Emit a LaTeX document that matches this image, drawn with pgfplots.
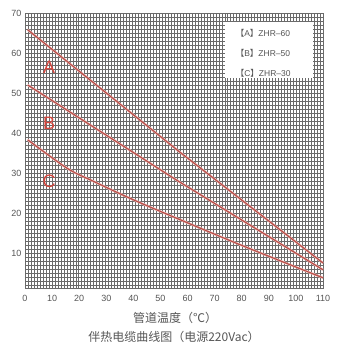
\documentclass[border=0pt]{standalone}
\usepackage{pgfplots}
\pgfplotsset{compat=1.18}
\usepackage{fontspec}
\setmainfont{Liberation Sans}
\newfontfamily\cjk{Noto Sans CJK SC}
\definecolor{gridc}{HTML}{6A6A6A}
\definecolor{curve}{HTML}{B84D48}
\definecolor{halo}{HTML}{EDB8B4}
\definecolor{lbl}{HTML}{D6473E}
\definecolor{txt}{HTML}{555555}
\begin{document}
\begin{tikzpicture}[x=1pt,y=1pt]
\useasboundingbox (0,0) rectangle (345,347);
\begin{axis}[
  at={(25pt,59pt)}, anchor=south west, scale only axis,
  width=298pt, height=275pt,
  xmin=0, xmax=110, ymin=1.25, ymax=70,
  axis line style={gridc, line width=0.4pt},
  xtick={0,10,...,110}, ytick={10,20,...,70},
  major tick length=0pt, minor tick length=0pt,
  minor xtick={0,1.1,...,110}, minor ytick={2,3,...,70},
  grid=minor, minor grid style={gridc, line width=0.3pt},
  tick label style={font=\fontsize{9}{10}\selectfont, text=txt},
  /pgf/number format/assume math mode=true,
  xticklabel style={yshift=-3.5pt},
  clip=false,
]
\fill[white] (axis cs:73.8,67.7) rectangle (axis cs:106.2,53.8);
\node[anchor=west, font=\fontsize{8.5}{10}\selectfont, text=txt] at (axis cs:76.5,65) {{\cjk 【}A{\cjk 】}ZHR–60};
\node[anchor=west, font=\fontsize{8.5}{10}\selectfont, text=txt] at (axis cs:76.5,60) {{\cjk 【}B{\cjk 】}ZHR–50};
\node[anchor=west, font=\fontsize{8.5}{10}\selectfont, text=txt] at (axis cs:76.5,55) {{\cjk 【}C{\cjk 】}ZHR–30};
\addplot[halo, line width=2.2pt] coordinates {(1,65.8) (57,35.3) (110,7.5)};
\addplot[curve, line width=1.1pt] coordinates {(1,65.8) (57,35.3) (110,7.5)};
\addplot[halo, line width=2.2pt] coordinates {(1,52.0) (56,28.2) (110,5.8)};
\addplot[curve, line width=1.1pt] coordinates {(1,52.0) (56,28.2) (110,5.8)};
\addplot[halo, line width=2.2pt, smooth] coordinates {(1,38.3) (15.5,31.2) (25,28.0) (40,23.3) (57,18.4) (80,11.9) (110,3.8)};
\addplot[curve, line width=1.1pt, smooth] coordinates {(1,38.3) (15.5,31.2) (25,28.0) (40,23.3) (57,18.4) (80,11.9) (110,3.8)};
\node[text=lbl, font=\fontsize{18}{19}\selectfont] at (axis cs:8.9,56.3) {A};
\node[text=lbl, font=\fontsize{18}{19}\selectfont] at (axis cs:8.9,42.3) {B};
\node[text=lbl, font=\fontsize{18}{19}\selectfont] at (axis cs:8.9,28.0) {C};
\end{axis}
\node[text=txt, font=\cjk\fontsize{12}{13}\selectfont] at (175,29) {管道温度（℃）};
\node[text=txt, font=\cjk\fontsize{12}{13}\selectfont] at (174,10) {伴热电缆曲线图（电源220Vac）};
\end{tikzpicture}
\end{document}
